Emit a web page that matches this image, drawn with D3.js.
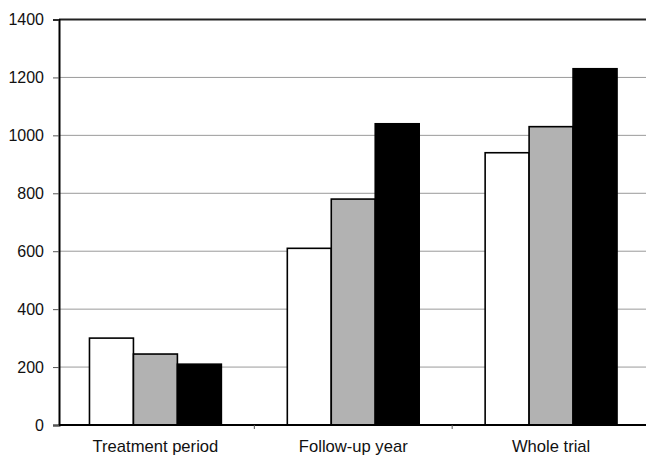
<!DOCTYPE html>
<html>
<head>
<meta charset="utf-8">
<script src="https://cdn.jsdelivr.net/npm/d3@7"></script>
<style>
  html, body { margin: 0; padding: 0; background: #fff; }
  svg { display: block; }
  text { font-family: "Liberation Sans", Arial, sans-serif; fill: #111; }
</style>
</head>
<body>
<svg id="chart" width="646" height="457"></svg>
<script>
const categories = ["Treatment period", "Follow-up year", "Whole trial"];
const seriesNames = ["Series 1", "Series 2", "Series 3"];
const series1 = [300, 610, 940];
const series2 = [245, 780, 1030];
const series3 = [210, 1040, 1230];
const yTicks = [0, 200, 400, 600, 800, 1000, 1200, 1400];
const seriesFills = ["#ffffff", "#b2b2b2", "#000000"];

const allSeries = [series1, series2, series3];
const svg = d3.select("#chart");

const axisX = 59, x0Left = 56.5, x0Right = 650;
const yTop = 19.5, yBottom = 425;

const x0 = d3.scaleBand().domain(categories).range([x0Left, x0Right])
  .paddingInner(1/3).paddingOuter(1/6);
const xCat = d3.scaleBand().domain(categories).range([x0Left, x0Right]).padding(0);
const x1 = d3.scaleBand().domain(seriesNames).range([0, x0.bandwidth()]).padding(0);
const y = d3.scaleLinear().domain([0, 1400]).range([yBottom, yTop]);

// gridlines
svg.append("g").selectAll("line").data(yTicks.filter(t => t > 0 && t < 1400)).join("line")
  .attr("x1", axisX).attr("x2", 646)
  .attr("y1", d => y(d)).attr("y2", d => y(d))
  .attr("stroke", "#9a9a9a").attr("stroke-width", 1);

// top border line
svg.append("line")
  .attr("x1", axisX).attr("x2", 646)
  .attr("y1", y(1400)).attr("y2", y(1400))
  .attr("stroke", "#222").attr("stroke-width", 1.8);

// bars
const rows = [];
categories.forEach((c, i) => {
  seriesNames.forEach((s, j) => rows.push({ cat: c, ser: s, v: allSeries[j][i], fill: seriesFills[j] }));
});
svg.append("g").selectAll("rect").data(rows).join("rect")
  .attr("x", d => x0(d.cat) + x1(d.ser))
  .attr("y", d => y(d.v))
  .attr("width", x1.bandwidth())
  .attr("height", d => y(0) - y(d.v))
  .attr("fill", d => d.fill)
  .attr("stroke", "#000").attr("stroke-width", 1.6);

// y axis
const yAxis = d3.axisLeft(y).tickValues(yTicks).tickSize(6).tickPadding(9).tickFormat(d3.format("d"));
const gy = svg.append("g").attr("transform", `translate(${axisX},0)`).call(yAxis);
gy.select(".domain").attr("stroke", "#000").attr("stroke-width", 2);
gy.selectAll(".tick line").attr("stroke", "#555").attr("stroke-width", 1);
gy.selectAll(".tick text").attr("font-size", 16).attr("font-family", "Liberation Sans, Arial, sans-serif").attr("fill", "#111");

// x axis line
svg.append("line").attr("x1", axisX).attr("x2", 646)
  .attr("y1", yBottom).attr("y2", yBottom)
  .attr("stroke", "#000").attr("stroke-width", 2);

// category boundary ticks
svg.append("g").selectAll("line").data(categories.slice(1)).join("line")
  .attr("x1", d => xCat(d)).attr("x2", d => xCat(d))
  .attr("y1", yBottom).attr("y2", yBottom + 4)
  .attr("stroke", "#555").attr("stroke-width", 1);

// category labels
svg.append("g").selectAll("text").data(categories).join("text")
  .attr("x", d => x0(d) + x0.bandwidth() / 2)
  .attr("y", 452)
  .attr("text-anchor", "middle")
  .attr("font-size", 16.6)
  .text(d => d);
</script>
</body>
</html>
